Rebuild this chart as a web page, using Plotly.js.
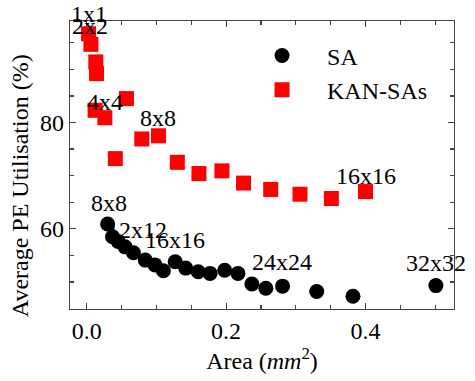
<!DOCTYPE html>
<html>
<head>
<meta charset="utf-8">
<script src="https://cdn.plot.ly/plotly-3.0.1.min.js"></script>
<style>html,body{margin:0;padding:0;background:#fff;}#chart{width:475px;height:381px;}</style>
</head>
<body>
<div id="chart"></div>
<script>
// SA (black circles)
const areaSA = [0.030, 0.037, 0.045, 0.055, 0.067, 0.084, 0.098, 0.110, 0.127, 0.142, 0.160, 0.177, 0.198, 0.217, 0.237, 0.257, 0.281, 0.330, 0.382, 0.501];
const utilSA = [60.9, 58.5, 57.6, 56.6, 55.5, 54.1, 53.2, 52.1, 53.8, 52.6, 51.9, 51.6, 52.2, 51.6, 49.6, 48.8, 49.2, 48.2, 47.3, 49.3];
// KAN-SAs (red squares)
const areaKAN = [0.0026, 0.006, 0.013, 0.014, 0.012, 0.026, 0.057, 0.041, 0.079, 0.103, 0.130, 0.161, 0.194, 0.225, 0.264, 0.306, 0.351, 0.400];
const utilKAN = [96.7, 94.7, 91.4, 89.2, 82.3, 80.9, 84.5, 73.2, 76.9, 77.5, 72.5, 70.4, 70.9, 68.6, 67.4, 66.5, 65.7, 67.0];
// point labels
const labelText = ["1x1", "2x2", "4x4", "8x8", "16x16", "8x8", "12x12", "16x16", "24x24", "32x32"];
const labelX = [0.0033, 0.0054, 0.0255, 0.102, 0.4004, 0.0313, 0.0717, 0.1266, 0.280, 0.501];
const labelY = [99.0, 98.1, 83.9, 80.8, 69.9, 64.8, 59.75, 57.9, 53.7, 53.55];
const labelShift = [8, 0, 0, 0, 0, 0, 0, 0, 0, 0];
const seriesNames = ["SA", "KAN-SAs"];
const xTitle = "Area (<i>mm</i><sup>2</sup>)";
const yTitle = "Average PE Utilisation (%)";

const FONT = "Liberation Serif, Times New Roman, serif";
const AX = "#444";

const traces = [
  {x: areaSA, y: utilSA, mode: "markers", type: "scatter", name: seriesNames[0], legendgroup: "a",
   marker: {symbol: "circle", size: 15, color: "#000"}, cliponaxis: false},
  {x: areaKAN, y: utilKAN, mode: "markers", type: "scatter", name: seriesNames[1], legendgroup: "b",
   marker: {symbol: "square", size: 15, color: "#ff0000"}, cliponaxis: false}
];

const annotations = labelText.map((t, i) => ({
  x: labelX[i], y: labelY[i], xref: "x", yref: "y", yshift: labelShift[i], text: t, showarrow: false,
  xanchor: "center", yanchor: "middle", font: {family: FONT, size: 24, color: "#000"}
}));
annotations.push({
  x: 0, y: 0.4266, xref: "paper", yref: "paper", xshift: -50, text: yTitle, textangle: -90,
  showarrow: false, xanchor: "center", yanchor: "middle", font: {family: FONT, size: 24, color: "#000"}
});

const axisCommon = {
  showline: true, linecolor: AX, linewidth: 1.2, mirror: "ticks", ticks: "inside",
  ticklen: 6, tickwidth: 1.2, tickcolor: AX, showgrid: false, zeroline: false,
  tickfont: {family: FONT, size: 24, color: "#000"}
};

const layout = {
  width: 475, height: 381,
  margin: {l: 70, r: 21, t: 21, b: 72},
  paper_bgcolor: "#fff", plot_bgcolor: "#fff",
  font: {family: FONT, size: 24, color: "#000"},
  showlegend: true,
  legend: {x: 0.435, y: 0.957, xanchor: "left", yanchor: "top", bgcolor: "rgba(0,0,0,0)",
           font: {family: FONT, size: 24, color: "#000"}, itemwidth: 80, traceorder: "grouped", tracegroupgap: 0},
  xaxis: Object.assign({}, axisCommon, {
    range: [-0.024, 0.527], tickmode: "linear", tick0: 0, dtick: 0.2, tickformat: ".1f",
    minor: {ticks: "inside", dtick: 0.05, tick0: 0, ticklen: 4, tickcolor: AX, tickwidth: 1.2},
    title: {text: xTitle, font: {family: FONT, size: 24, color: "#000"}, standoff: 2}
  }),
  yaxis: Object.assign({}, axisCommon, {
    range: [44.9, 99.1], tickmode: "linear", tick0: 0, dtick: 20,
    minor: {ticks: "inside", dtick: 5, tick0: 0, ticklen: 4, tickcolor: AX, tickwidth: 1.2}
  }),
  annotations: annotations
};

Plotly.newPlot("chart", traces, layout, {displayModeBar: false, staticPlot: true});
</script>
</body>
</html>
